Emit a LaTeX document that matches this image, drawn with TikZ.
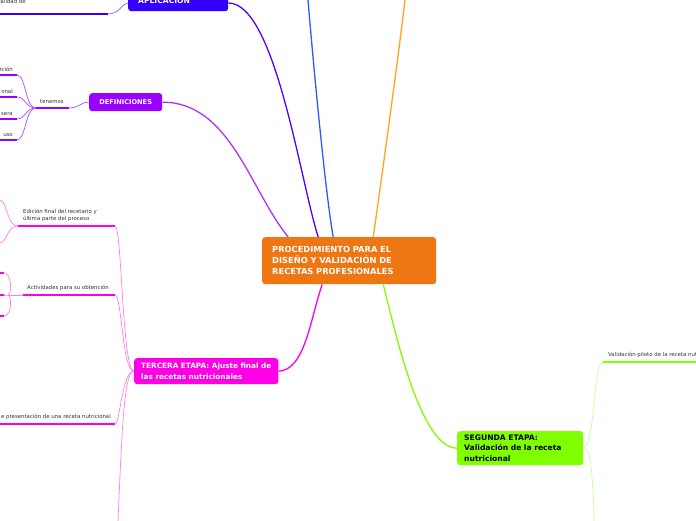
\documentclass[tikz,border=0pt]{standalone}
\usepackage{fontspec}
\setmainfont{DejaVu Sans}
\definecolor{corange}{HTML}{EE7613}
\definecolor{cblue}{HTML}{3300FF}
\definecolor{cblue2}{HTML}{2B5BFF}
\definecolor{cora}{HTML}{FFA51E}
\definecolor{cpurp}{HTML}{9900FF}
\definecolor{cpurpl}{HTML}{B04DFF}
\definecolor{cmag}{HTML}{FF00E6}
\definecolor{cmagl}{HTML}{FF80F0}
\definecolor{cgreen}{HTML}{80FF00}
\definecolor{cgreenl}{HTML}{C4FF99}
\definecolor{ctext}{HTML}{333333}
\begin{document}
\begin{tikzpicture}[x=1pt,y=-1pt,
  topic/.style={rounded corners=3pt,inner sep=0pt,anchor=north west,font=\fontsize{7.6}{10.5}\selectfont\bfseries,align=left,text=white},
  small/.style={font=\fontsize{5.4}{7}\selectfont,text=ctext,inner sep=0pt,anchor=south west,align=left},
  main/.style={line width=1.3pt},
  thin/.style={line width=0.7pt},
  uline/.style={line width=2.4pt}]
\useasboundingbox (0,0) rectangle (696,520);
% central
\node[topic,fill=corange,minimum width=174pt,minimum height=47pt,font=\fontsize{8.3}{11}\selectfont\bfseries,inner xsep=10pt,text width=154pt] (c) at (262,237) {PROCEDIMIENTO PARA EL\\DISEÑO Y VALIDACIÓN DE\\RECETAS PROFESIONALES};
% aplicacion
\node[topic,fill=cblue,minimum width=100pt,minimum height=21pt,text width=88pt] (apl) at (128,-10) {\hspace*{4pt}\raisebox{-6pt}{APLICACION}};
\coordinate (aplu) at (108,14);
\coordinate (aplu0) at (0,14);
\node[small] (apltxt) at (-8,4) {ctualidad de};
\draw[uline,cblue] (aplu0) -- (aplu);
\draw[thin,cblue!60] (aplu) .. controls (120,14) and (122,3) .. (apl.west |- 128,3);
\draw[main,cblue!70!cpurp] (apl.east |- 228,3) .. controls (275,3) and (300,180) .. ([xshift=-31pt]c.north);
% blue and orange from top
\coordinate (tb) at (308,0);
\coordinate (to) at (405,0);
\draw[main,cblue2] (tb) .. controls (313,60) and (325,190) .. ([xshift=-16pt]c.north);
\draw[main,cora] (to) .. controls (398,60) and (380,190) .. ([xshift=24pt]c.north);
% definiciones
\node[topic,fill=cpurp,minimum width=73pt,minimum height=18pt] (def) at (89,93) {};
\node[font=\fontsize{6.6}{8}\selectfont\bfseries,text=white,inner sep=0pt] at (def.center) {DEFINICIONES};
\draw[main,cpurp!80] (def.east) .. controls (230,102) and (250,190) .. ([xshift=-61pt]c.north);
\node[small] (ten) at (40,104) {tenemos};
\coordinate (tenL) at (36,108);
\coordinate (tenR) at (69,108);
\draw[uline,cpurp] (tenL) -- (tenR);
\draw[thin,cpurpl] (tenR) .. controls (80,108) and (80,102) .. (def.west);
\foreach \y/\t in {75/rción,97/onal,119/sera,140/uso}{
  \draw[uline,cpurp] (-1,\y) -- (17,\y);
  \node[small,anchor=south east] at (13,\y-3) {\t};
  \draw[thin,cpurpl] (17,\y) .. controls (26,\y) and (25,108) .. (tenL);
}
% tercera
\node[topic,fill=cmag,minimum height=26pt,inner xsep=7pt,font=\fontsize{7.3}{10.5}\selectfont\bfseries] (ter) at (134,358) {TERCERA ETAPA: Ajuste final de\\las recetas nutricionales};
\draw[main,cmag] (ter.east) .. controls (305,370) and (310,320) .. ([xshift=-27pt]c.south);
\coordinate (e1) at (18,226);
\coordinate (e2) at (115,226);
\coordinate (a1) at (23,295);
\coordinate (a2) at (115,295);
\coordinate (p1) at (-1,424);
\coordinate (p2) at (115,424);
\coordinate (b1) at (118,521);
\draw[uline,cmag] (e1) -- (e2);
\draw[uline,cmag] (a1) -- (a2);
\draw[uline,cmag] (p1) -- (p2);
\node[small] at (23,222) {Edición final del recetario y\\última parte del proceso};
\node[small] at (27,291) {Actividades para su obtención};
\node[small,anchor=south east] at (111,420) {e presentación de una receta nutricional};
\draw[thin,cmagl] (e2) .. controls (122,226) and (122,371) .. (ter.west);
\draw[thin,cmagl] (a2) .. controls (122,295) and (122,371) .. (ter.west);
\draw[thin,cmagl] (p2) .. controls (120,424) and (122,371) .. (ter.west);
\draw[thin,cmagl] (b1) .. controls (122,430) and (124,371) .. (ter.west);
% edicion children
\draw[thin,cmagl] (e1) .. controls (6,226) and (8,200) .. (-1,200);
\draw[thin,cmagl] (e1) .. controls (6,226) and (8,243) .. (-1,243);
% actividades children
\coordinate (a0) at (8,295);
\draw[thin,cmagl] (a1) -- (a0);
\foreach \y in {273,295,316}{
  \draw[uline,cmag] (-1,\y) -- (4,\y);
  \draw[thin,cmagl] (4,\y) .. controls (12,\y) and (12,295) .. (a0);
}
% segunda
\node[topic,fill=cgreen,text=black,minimum width=126pt,minimum height=34pt,inner xsep=7pt,text width=112pt] (seg) at (457,431) {SEGUNDA ETAPA:\\Validación de la receta\\nutricional};
\draw[main,cgreen] (seg.west) .. controls (420,448) and (395,330) .. ([xshift=34pt]c.south);
\coordinate (v1) at (603,362);
\coordinate (v2) at (697,362);
\draw[uline,cgreen] (v1) -- (v2);
\node[small] at (608,358) {Validación piloto de la receta nutricional};
\draw[thin,cgreenl] (seg.east) .. controls (595,448) and (593,362) .. (v1);
\coordinate (g2) at (594,521);
\draw[thin,cgreenl] (seg.east) .. controls (590,448) and (593,470) .. (g2);
\end{tikzpicture}
\end{document}
